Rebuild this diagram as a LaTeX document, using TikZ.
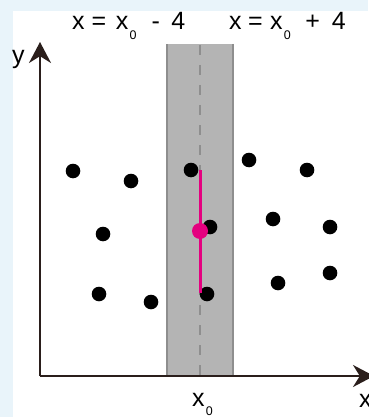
\documentclass[tikz,border=0pt]{standalone}
\usepackage{fontspec}
\setmainfont{Liberation Sans}
\definecolor{mPaleBlue}{HTML}{E9F4FA}
\definecolor{mAxis}{HTML}{2A1E1B}
\definecolor{mBand}{HTML}{B4B4B4}
\definecolor{mBandEdge}{HTML}{8E8E8E}
\definecolor{mMagenta}{HTML}{E4007F}
\usetikzlibrary{arrows.meta}
\newcommand{\lowsub}[1]{\hspace{1.2pt}\raisebox{-9.5pt}{\fontsize{12.5}{12.5}\selectfont #1}}

\begin{document}
\begin{tikzpicture}[x=1pt,y=-1pt,font=\fontsize{25}{27}\selectfont,
  dot/.style={circle,fill=black,inner sep=0pt,minimum size=14.6pt},
  lbl/.style={inner sep=0pt,anchor=base west}]
\useasboundingbox (0,0) rectangle (368,417);
\fill[mPaleBlue] (0,0) rectangle (368,417);
\fill[white] (13,11) rectangle (368,417);
% window around x0
\fill[mBand] (167,44) rectangle (233,376);
\draw[mBandEdge, line width=1.5pt] (167,376) -- (167,44) (233,44) -- (233,376);
\draw[mBandEdge, line width=1.5pt, dash pattern=on 10pt off 10pt, dash phase=19pt] (200,44) -- (200,376);
% axes
\coordinate (O) at (40,376);
\coordinate (ytip) at (40,42);
\coordinate (xtip) at (374,376);
\draw[mAxis, line width=2pt, -{Stealth[length=21pt,width=22pt]}] (O) -- (ytip);
\draw[mAxis, line width=2pt, -{Stealth[length=21pt,width=22pt]}] (O) -- (xtip);
\node[lbl] (ylab) at (12,64) {y};
\node[lbl] (xlab) at (359,407) {x};
\node[lbl] (x0lab) at (192,406) {x\lowsub{0}};
\node[lbl] (lolab) at (72,30) {x\hspace{7pt}=\hspace{9.6pt}x\lowsub{0}\hspace{15pt}-\hspace{11.5pt}4};
\node[lbl] (hilab) at (229,30) {x\hspace{6.3pt}=\hspace{7.6pt}x\lowsub{0}\hspace{14.5pt}+\hspace{12pt}4};
% samples
\node[dot] (p1) at (73,171) {};
\node[dot] (p2) at (131,181) {};
\node[dot] (p3) at (191,170) {};
\node[dot] (p4) at (249,160) {};
\node[dot] (p5) at (307,170) {};
\node[dot] (p6) at (103,234) {};
\node[dot] (p7) at (210,227) {};
\node[dot] (p8) at (273,219) {};
\node[dot] (p9) at (330,227) {};
\node[dot] (p10) at (99,294) {};
\node[dot] (p11) at (151,302) {};
\node[dot] (p12) at (207,294) {};
\node[dot] (p13) at (278,283) {};
\node[dot] (p14) at (330,273) {};
% local estimate at x0
\coordinate (top) at (200,170);
\coordinate (bot) at (200,293);
\draw[mMagenta, line width=3pt] (bot) -- (top);
\node[circle, fill=mMagenta, inner sep=0pt, minimum size=16pt] (est) at (200,231) {};
\end{tikzpicture}
\end{document}
